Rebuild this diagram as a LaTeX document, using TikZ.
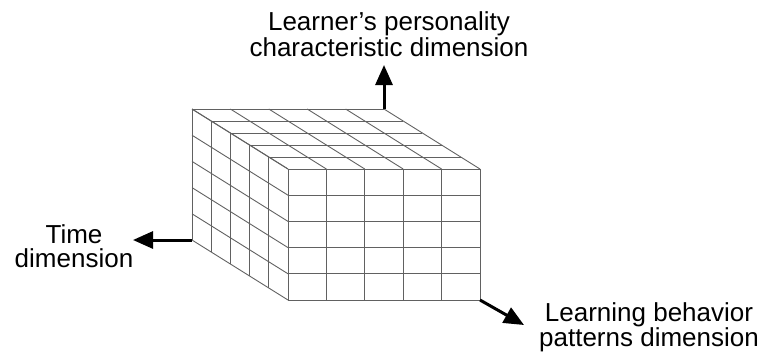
\documentclass[tikz,border=0pt]{standalone}
\usepackage{fontspec}
\setmainfont{Liberation Sans}
\usetikzlibrary{arrows.meta}
\begin{document}
\begin{tikzpicture}[x=1pt,y=-1pt,
  gridline/.style={draw=black!62,line width=0.9pt},
  axisarrow/.style={line width=3pt,-{Triangle[length=20pt,width=17pt]}},
  lbl/.style={align=center,font=\fontsize{26}{24}\selectfont,inner sep=0pt}]
\useasboundingbox (0,0) rectangle (762,354);
\def\fx{288}\def\fy{169}\def\fw{192}\def\fh{131}\def\dx{-96}\def\dy{-60}
% front face
\foreach \i in {0,...,5} {
  \draw[gridline] ({\fx+\i*\fw/5},\fy) -- ({\fx+\i*\fw/5},{\fy+\fh});
  \draw[gridline] (\fx,{\fy+\i*\fh/5}) -- ({\fx+\fw},{\fy+\i*\fh/5});
}
% top face
\foreach \i in {0,...,5} {
  \draw[gridline] ({\fx+\i*\fw/5},\fy) -- ++(\dx,\dy);
  \draw[gridline] ({\fx+\i*\dx/5},{\fy+\i*\dy/5}) -- ++(\fw,0);
}
% left face
\foreach \i in {0,...,5} {
  \draw[gridline] (\fx,{\fy+\i*\fh/5}) -- ++(\dx,\dy);
  \draw[gridline] ({\fx+\i*\dx/5},{\fy+\i*\dy/5}) -- ++(0,\fh);
}
% corners and arrow tips
\coordinate (backbl) at ({\fx+\dx},{\fy+\fh+\dy});
\coordinate (backtr) at ({\fx+\fw+\dx},{\fy+\dy});
\coordinate (frontbr) at ({\fx+\fw},{\fy+\fh});
\coordinate (timetip) at (133,240);
\coordinate (uptip) at (384,65);
\coordinate (learntip) at (524,325);
\draw[axisarrow] (backbl) -- (timetip);
\draw[axisarrow] (backtr) -- (uptip);
\draw[axisarrow] (frontbr) -- (learntip);
% labels
\node[lbl] (ylabel) at (389,34.3) {Learner’s personality\\characteristic dimension};
\node[lbl] (xlabel) at (74,246.2) {Time\\dimension};
\node[lbl] (zlabel) at (649,327.3) {Learning behavior\\patterns dimension};
\end{tikzpicture}
\end{document}
